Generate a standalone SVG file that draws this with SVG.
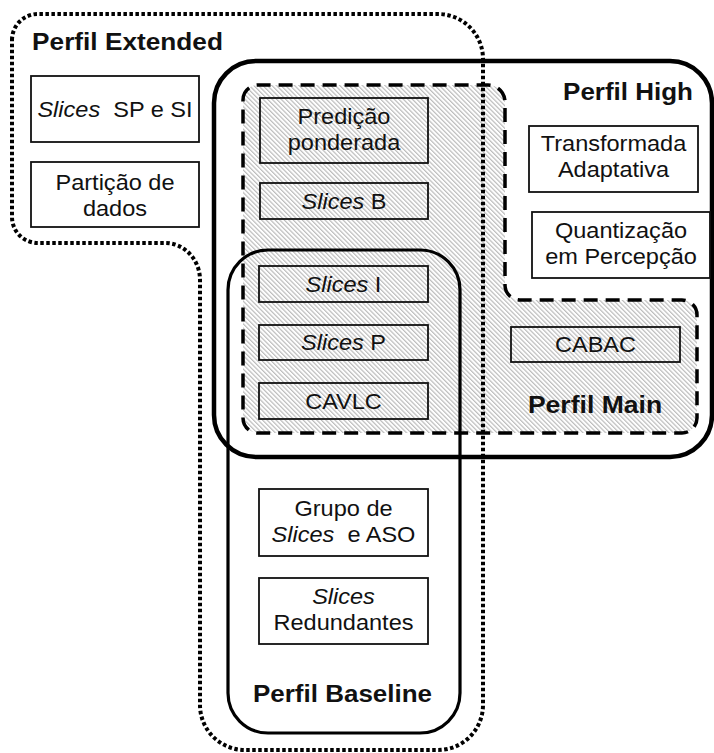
<svg xmlns="http://www.w3.org/2000/svg" width="714" height="753" viewBox="0 0 714 753">
<style>
text{font-family:"Liberation Sans",Arial,sans-serif;fill:#111}
.t{font-size:22px;text-anchor:middle}
.b{font-size:23px;font-weight:bold;text-anchor:middle}
.i{font-style:italic}
.box{fill:none;stroke:#111;stroke-width:1.8}
.high{fill:none;stroke:#000;stroke-width:4.5}
.base{fill:none;stroke:#000;stroke-width:3.2}
.main{fill:url(#hatch);stroke:#000;stroke-width:3.5;stroke-dasharray:14 8}
.ext{fill:none;stroke:#000;stroke-width:4;stroke-dasharray:3.5 2.5}
</style>
<defs>
<pattern id="hatch" width="3.2" height="10" patternUnits="userSpaceOnUse" patternTransform="rotate(-45)">
<rect width="3.2" height="10" fill="#fff"/>
<line x1="0.6" y1="0" x2="0.6" y2="10" stroke="#bcbcbc" stroke-width="1.2"/>
</pattern>
</defs>
<rect width="714" height="753" fill="#fff"/>
<g id="connectors">
<g id="perfil-high-region"><rect class="high" x="214" y="61" width="498" height="396" rx="42"/></g>
<g id="perfil-main-region"><path class="main" d="M243,100 A15,15 0 0 1 258,85 H488 A17,17 0 0 1 505,102 V285 A15,15 0 0 0 520,300 H682 A15,15 0 0 1 697,315 V418 A15,15 0 0 1 682,433 H258 A15,15 0 0 1 243,418 Z"/></g>
<g id="perfil-baseline-region"><rect class="base" x="228" y="250" width="232" height="483" rx="40"/></g>
<g id="perfil-extended-region"><path class="ext" d="M12,40 A26,26 0 0 1 38,14 H438 A45,45 0 0 1 483,59 V705 A45,45 0 0 1 438,750 H245 A45,45 0 0 1 200,705 V280 A35,37 0 0 0 165,243 H38 A26,26 0 0 1 12,217 Z"/></g>
</g>
<g id="label-extended"><text class="b" transform="translate(127.5,50) scale(1.14,1)">Perfil Extended</text></g>
<g id="label-high"><text class="b" transform="translate(628,100) scale(1.13,1)">Perfil High</text></g>
<g id="label-main"><text class="b" transform="translate(595,413) scale(1.155,1)">Perfil Main</text></g>
<g id="label-baseline"><text class="b" transform="translate(342.5,702) scale(1.13,1)">Perfil Baseline</text></g>

<g id="n-sp-si"><rect class="box" x="31" y="76" width="168" height="66"/>
<text class="t" transform="translate(115,117) scale(1.07,1)"><tspan class="i">Slices</tspan><tspan>&#160;&#160;SP e SI</tspan></text></g>
<g id="n-particao"><rect class="box" x="31" y="162" width="168" height="65"/>
<text class="t" transform="translate(115,189.5) scale(1.07,1)">Partição de</text>
<text class="t" transform="translate(115,215.5) scale(1.07,1)">dados</text></g>
<g id="n-predicao"><rect class="box" x="260" y="98" width="168" height="65"/>
<text class="t" transform="translate(344,124) scale(1.07,1)">Predição</text>
<text class="t" transform="translate(344,150) scale(1.07,1)">ponderada</text></g>
<g id="n-slices-b"><rect class="box" x="260" y="183" width="168" height="36"/>
<text class="t" transform="translate(344,208.5) scale(1.07,1)"><tspan class="i">Slices</tspan><tspan> B</tspan></text></g>
<g id="n-slices-i"><rect class="box" x="259" y="266" width="169" height="36"/>
<text class="t" transform="translate(343.5,291.5) scale(1.07,1)"><tspan class="i">Slices</tspan><tspan> I</tspan></text></g>
<g id="n-slices-p"><rect class="box" x="259" y="325" width="169" height="35"/>
<text class="t" transform="translate(343.5,349.5) scale(1.07,1)"><tspan class="i">Slices</tspan><tspan> P</tspan></text></g>
<g id="n-cavlc"><rect class="box" x="259" y="383" width="169" height="36"/>
<text class="t" transform="translate(343.5,408.5) scale(1.07,1)">CAVLC</text></g>
<g id="n-transformada"><rect class="box" x="529" y="126" width="169" height="66"/>
<text class="t" transform="translate(613.5,151) scale(1.07,1)">Transformada</text>
<text class="t" transform="translate(613.5,177) scale(1.07,1)">Adaptativa</text></g>
<g id="n-quantizacao"><rect class="box" x="532" y="212" width="178" height="66"/>
<text class="t" transform="translate(621,238) scale(1.07,1)">Quantização</text>
<text class="t" transform="translate(621,264) scale(1.07,1)">em Percepção</text></g>
<g id="n-cabac"><rect class="box" x="511" y="327" width="169" height="35"/>
<text class="t" transform="translate(595.5,352) scale(1.07,1)">CABAC</text></g>
<g id="n-grupo"><rect class="box" x="259" y="489" width="169" height="67"/>
<text class="t" transform="translate(343.5,515.5) scale(1.07,1)">Grupo de</text>
<text class="t" transform="translate(343.5,541.5) scale(1.07,1)"><tspan class="i">Slices</tspan><tspan>&#160;&#160;e ASO</tspan></text></g>
<g id="n-redundantes"><rect class="box" x="259" y="578" width="169" height="66"/>
<text class="t i" transform="translate(343.5,603.5) scale(1.07,1)">Slices</text>
<text class="t" transform="translate(343.5,629.5) scale(1.07,1)">Redundantes</text></g>
</svg>
